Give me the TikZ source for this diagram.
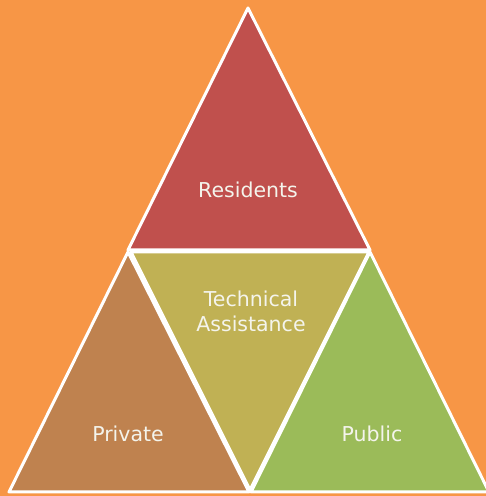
\documentclass[tikz,border=0pt]{standalone}
\usepackage{fontspec}
\setmainfont{DejaVu Sans}
\definecolor{bgorange}{HTML}{F79646}
\definecolor{resred}{HTML}{C0504D}
\definecolor{privbrown}{HTML}{BF824F}
\definecolor{techolive}{HTML}{C0B154}
\definecolor{pubgreen}{HTML}{9BBB59}
\definecolor{txtwhite}{HTML}{F4F4EC}
\tikzset{
  tri/.style={draw=white,line width=3pt,line join=round},
  lbl/.style={text=txtwhite,font=\fontsize{20.5}{25}\selectfont,align=center,inner sep=0pt}
}
\begin{document}
\begin{tikzpicture}[x=1pt,y=1pt]
\fill[bgorange] (0,0) rectangle (486,496);
\useasboundingbox (0,0) rectangle (486,496);
\begin{scope}
\clip (0,0) rectangle (486,496);
\filldraw[tri,fill=resred] (248,488) -- (128,246) -- (370,246) -- cycle;
\filldraw[tri,fill=privbrown] (128,244) -- (9,4) -- (249,4) -- cycle;
\filldraw[tri,fill=techolive] (131,244) -- (369,244) -- (250,6) -- cycle;
\filldraw[tri,fill=pubgreen] (370,244) -- (251,4) -- (489,4) -- cycle;
\end{scope}
\node[lbl] (res) at (248,306) {Residents};
\node[lbl] (tech) at (251,185) {Technical\\Assistance};
\node[lbl] (priv) at (128,62) {Private};
\node[lbl] (pub) at (372,62) {Public};
\end{tikzpicture}
\end{document}
